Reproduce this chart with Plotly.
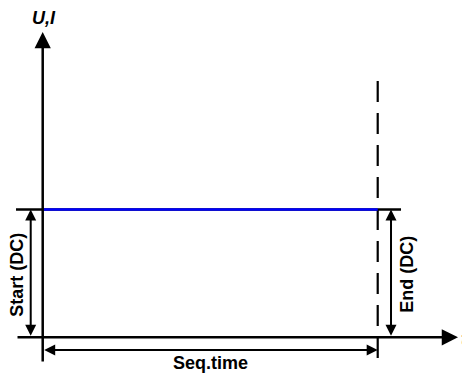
import plotly.graph_objects as go

# 序列时间（开始 / 结束），单位：Seq.time
seq_times = [0.0, 1.0]
# 直流电平（开始 / 结束）
dc_levels = [1.0, 1.0]

labels = {
    "y_axis": "U,I",
    "x_axis": "t",
    "start": "Start (DC)",
    "end": "End (DC)",
    "seq": "Seq.time",
}

# 页面 body 有 8px 边距，图本身缩小 8px，坐标范围按可见区域换算
X_RANGE = [-0.1036, 1.2755]
Y_RANGE = [-0.2793, 2.5767]

BLACK = "#000000"
BLUE = "#0000ff"
FONT = dict(family="Arial, Liberation Sans, sans-serif", size=18, color=BLACK, weight="bold")

t0, t1 = seq_times
lvl_start, lvl_end = dc_levels

fig = go.Figure()

# 电平线（黑色延长部分）
fig.add_shape(
    type="line", x0=-0.0797, x1=1.0696, y0=lvl_start, y1=lvl_end,
    line=dict(color=BLACK, width=2.5), layer="below",
)
# 结束时刻的虚线（从上往下画，让虚线从顶端开始）
fig.add_shape(
    type="line", x0=t1, x1=t1, y0=2.005, y1=-0.201,
    line=dict(color=BLACK, width=2.2, dash="21px,11px"), layer="below",
)

# 蓝色输出曲线
fig.add_trace(
    go.Scatter(
        x=seq_times, y=dc_levels, mode="lines",
        line=dict(color=BLUE, width=2.5), hoverinfo="skip", showlegend=False,
    )
)


def arrow(x, y, ax, ay, width, size, both=False):
    fig.add_annotation(
        x=x, y=y, ax=ax, ay=ay, xref="x", yref="y", axref="x", ayref="y",
        text="", showarrow=True, arrowhead=2, arrowsize=size, arrowwidth=width,
        arrowcolor=BLACK, arrowside="end+start" if both else "end",
        startarrowhead=2, startarrowsize=size, standoff=0, startstandoff=0,
    )


# 坐标轴
arrow(1.2397, 0, -0.0797, 0, 2.5, 1.3)
arrow(t0, 2.389, t0, -0.201, 2.5, 1.3)

# 尺寸箭头
arrow(-0.0358, lvl_start, -0.0358, 0, 2, 1.1, both=True)
arrow(1.0397, lvl_end, 1.0397, 0, 2, 1.1, both=True)
arrow(t1, -0.0994, t0, -0.0994, 2, 1.1, both=True)

# 文字标签
fig.add_annotation(x=0.004, y=2.498, text=labels["y_axis"], showarrow=False,
                   font=dict(FONT, style="italic"))
fig.add_annotation(x=1.0, xref="paper", y=-0.01, text=labels["x_axis"], showarrow=False,
                   xanchor="right", font=dict(FONT, style="italic"))
fig.add_annotation(x=-0.0767, y=lvl_start / 2 - 0.01, text=labels["start"], showarrow=False,
                   textangle=-90, font=FONT)
fig.add_annotation(x=1.0875, y=lvl_end / 2 - 0.01, text=labels["end"], showarrow=False,
                   textangle=-90, font=FONT)
fig.add_annotation(x=(t0 + t1) / 2, y=-0.201, text=labels["seq"], showarrow=False,
                   font=FONT)

fig.update_xaxes(range=X_RANGE, visible=False, showgrid=False, zeroline=False, fixedrange=True)
fig.update_yaxes(range=Y_RANGE, visible=False, showgrid=False, zeroline=False, fixedrange=True)
fig.update_layout(
    width=462, height=365,
    margin=dict(l=0, r=0, t=0, b=0, pad=0),
    plot_bgcolor="white", paper_bgcolor="white",
    showlegend=False,
)

fig.write_html("out.html")
